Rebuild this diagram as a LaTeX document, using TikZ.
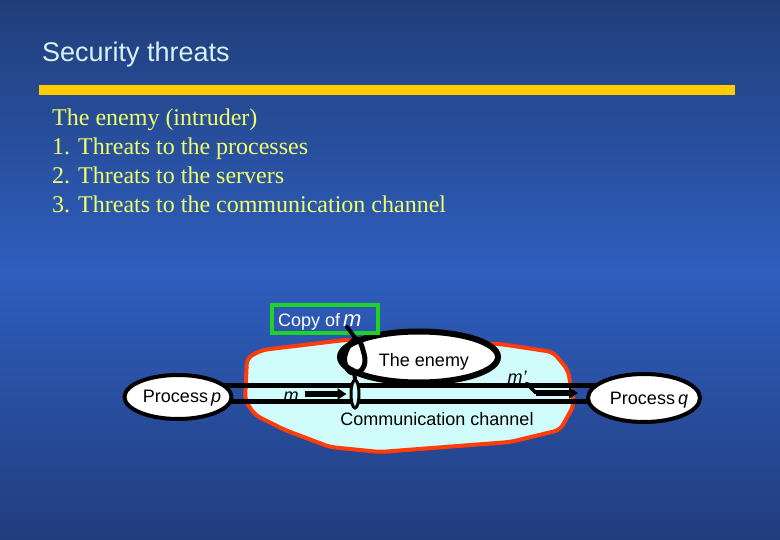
\documentclass[tikz,border=0pt]{standalone}
\usepackage{fontspec}
\setmainfont{Liberation Serif}
\setsansfont{Liberation Sans}
\usetikzlibrary{arrows.meta,shapes.geometric}
\definecolor{bgtop}{RGB}{33,62,122}
\definecolor{bgmid}{RGB}{46,94,190}
\definecolor{bgbot}{RGB}{34,61,126}
\definecolor{titlecol}{RGB}{215,242,242}
\definecolor{barcol}{RGB}{255,204,0}
\definecolor{bodyyellow}{RGB}{240,255,105}
\definecolor{blobfill}{RGB}{208,252,252}
\definecolor{blobborder}{RGB}{255,60,10}
\definecolor{copygreen}{RGB}{30,210,40}
\pgfdeclarelayer{bg}
\pgfdeclarelayer{back}
\pgfsetlayers{bg,back,main}
\begin{document}
\begin{tikzpicture}[x=1pt,y=-1pt,
  lbl/.style={font=\sffamily\fontsize{18}{20}\selectfont, text=black, inner sep=0pt},
  body/.style={anchor=base west, font=\rmfamily\fontsize{24}{28}\selectfont, text=bodyyellow, inner sep=0pt},
  procshape/.style={ellipse, draw=black, line width=4pt, fill=white, inner sep=0pt},
  tube/.style={line width=5pt, draw=black},
  msgarrow/.style={line width=5pt, draw=black, -{Triangle[length=9pt,width=11pt]}},
  thinlink/.style={line width=4pt, draw=black, line cap=round},
]
\useasboundingbox (0,0) rectangle (780,540);
\begin{pgfonlayer}{bg}
\shade[top color=bgtop, bottom color=bgbot, middle color=bgmid] (0,0) rectangle (780,540);
\draw[blobborder, line width=4pt, fill=blobfill, rounded corners=6pt]
  (247,358) -- (262,350) -- (345,340) -- (500,344) -- (553,352) -- (568,370)
  -- (574,405) -- (560,430) -- (510,442) -- (380,452) -- (330,447)
  -- (285,430) -- (255,415) -- (245,400) -- cycle;
\end{pgfonlayer}

% title and bar
\node[anchor=base west, inner sep=0pt, font=\sffamily\fontsize{27}{30}\selectfont, text=titlecol] (title) at (42,62) {Security threats};
\fill[barcol] (39,85) rectangle (735,95);

% body text
\node[body] (l1) at (52,126) {The enemy (intruder)};
\node[body] (l2) at (52,155) {1. Threats to the processes};
\node[body] (l3) at (52,184) {2. Threats to the servers};
\node[body] (l4) at (52,213) {3. Threats to the communication channel};

% processes
\node[procshape, minimum width=107pt, minimum height=44pt] (p) at (178,397) {};
\node[lbl] (ptext) at (182,398) {Process\,\textit{p}};
\node[procshape, minimum width=112pt, minimum height=48pt] (q) at (644,398) {};
\node[lbl] (qtext) at (649,400) {Process\,\textit{q}};

% tube (channel)
\begin{pgfonlayer}{back}
\draw[tube] ([yshift=11pt]p.center) -- ([yshift=11pt]p.center -| q.center);
\draw[tube] ([yshift=-4pt]p.center) -- ([yshift=-4pt]p.center -| q.center);
\end{pgfonlayer}

% enemy
\node[ellipse, draw=black, line width=6pt, fill=white, minimum width=158pt, minimum height=51pt, inner sep=0pt] (enemy) at (419,357) {};
\node[lbl] (enemytext) at (424,362) {The enemy};

% tap on channel
\node[ellipse, draw=black, line width=3pt, fill=blobfill, minimum width=8pt, minimum height=28pt, inner sep=0pt] (tap) at (355,394) {};

% copy of m
\node[draw=copygreen, line width=3.5pt, minimum width=106pt, minimum height=28pt, inner sep=0pt] (copy) at (325,319) {};
\node[anchor=base west, inner sep=0pt, font=\sffamily\fontsize{18}{20}\selectfont, text=white] (copytext) at (278,327) {Copy of\,{\fontsize{22}{22}\selectfont\textit{m}}};

% loop from copy to tap
\coordinate (mcopy) at (347,327);
\coordinate (loopTop) at (356,339);
\coordinate (loopBot) at (354,373);
\draw[thinlink] (mcopy) -- (loopTop);
\draw[line width=5pt] plot[smooth cycle, tension=0.8] coordinates {(356,339) (346,352) (346,366) (354,373) (364,366) (363,350)};
\draw[thinlink] (loopBot) -- (tap.north);

% message m
\node[lbl, font=\sffamily\fontsize{18}{20}\selectfont\itshape] (mlab) at (291,397) {m};
\draw[msgarrow] ([xshift=6pt,yshift=3pt]mlab.east) -- ([xshift=-3pt,yshift=3pt]mlab.east -| tap.west);

% message m'
\node[lbl, font=\sffamily\fontsize{18}{20}\selectfont\itshape] (mprime) at (517,377) {m'};
\coordinate (bend) at (536,393);
\draw[line width=3.5pt, line cap=round] (mprime.south east) -- (bend);
\draw[msgarrow] (bend) -- ([xshift=-8pt]bend -| q.west);

% channel label
\node[lbl] (chan) at (437,419) {Communication channel};
\end{tikzpicture}
\end{document}
